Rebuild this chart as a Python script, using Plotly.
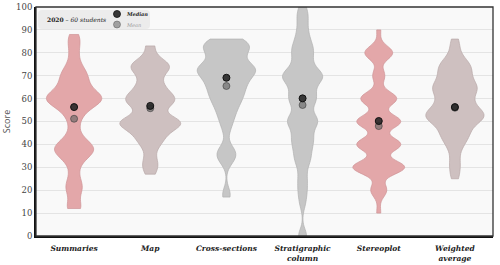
import plotly.graph_objects as go

categories = ["Summaries", "Map", "Cross-sections", "Stratigraphic<br>column", "Stereoplot", "Weighted<br>average"]

summaries = [12, 12, 13, 17, 20, 21, 22, 24, 27, 30,
             33, 34, 35, 36, 37, 37, 38, 38, 39, 39, 40, 41, 42, 44,
             47, 50, 52, 54, 55,
             56, 57, 58, 58, 59, 59, 60, 60, 60, 60, 61, 61, 62, 62, 63, 64, 65,
             66, 67, 68, 69, 70, 71, 72, 73, 75, 78, 81, 84, 86, 88]
map_scores = [27, 29, 31, 32, 34,
              38, 40, 41, 42, 43, 44, 44,
              46, 47, 48, 48, 49, 49, 49, 49, 50, 50, 50, 50, 50, 51, 51, 51,
              56, 57, 57, 58, 58, 59, 59, 60, 60, 60, 61, 61, 62, 63, 64, 65,
              66, 67, 68, 70, 72, 73, 73, 74, 74, 74, 75, 75, 76, 77,
              83, 83]
cross_sections = [17, 19,
                  32, 34, 35, 36, 37, 39,
                  46, 49, 51, 53, 54,
                  56, 57, 58, 59, 60, 61, 62, 62, 63, 64, 65,
                  66, 66, 67, 68, 68, 69, 69,
                  71, 71, 72, 72, 72, 73, 73, 73, 73, 74, 74, 75, 75,
                  77, 78, 79, 80, 80,
                  81, 82, 82, 83, 83, 84, 84, 85, 85, 86, 86]
stratigraphic = [0, 0,
                 14, 18, 21, 24,
                 27, 31, 33, 34, 36, 38, 39,
                 41, 42, 43, 44, 46,
                 48, 49, 50, 50, 51, 51, 52, 54,
                 57, 58, 59, 60, 60, 61,
                 63, 64, 65, 66,
                 68, 69, 69, 70, 70, 70, 70, 71, 72, 74,
                 75, 77, 78, 80, 81, 82, 83, 85,
                 87, 89, 92, 95, 97, 100]
stereoplot = ([10] + [20] * 4 + [30] * 13 + [40] * 11 + [50] * 11 +
              [60] * 9 + [70] * 3 + [80] * 7 + [90])
weighted = [25, 28, 31, 33,
            37, 39,
            41, 42, 43, 44, 45, 46, 46,
            48, 49, 50, 50, 51, 51, 52, 52, 52, 53, 53, 53, 54, 54, 55, 55,
            56, 57, 58, 59, 59, 60, 61, 62,
            63, 64, 64, 65, 65, 65, 66, 66, 67,
            69, 70, 70, 71, 72,
            73, 74, 75, 75, 76, 77,
            80, 83, 86]

scores = [summaries, map_scores, cross_sections, stratigraphic, stereoplot, weighted]
medians = [56.3, 56.8, 69.1, 60.1, 50.2, 56.3]
means = [51.2, 55.8, 65.5, 57.2, 48.0, 56.0]

fills = ["#e3a7a9", "#cec0c0", "#c6c6c6", "#c6c6c6", "#e3a7a9", "#cec0c0"]
lines = ["#cf9396", "#b8a8a8", "#b0b0b0", "#b0b0b0", "#cf9396", "#b8a8a8"]

fig = go.Figure()
for i, s in enumerate(scores):
    fig.add_trace(go.Violin(
        x=[i] * len(s), y=s, name=categories[i],
        spanmode="hard", bandwidth=3,
        scalegroup="all", scalemode="width",
        points=False, box_visible=False, meanline_visible=False,
        fillcolor=fills[i], line=dict(color=lines[i], width=0.7),
        opacity=1, showlegend=False, hoverinfo="skip",
    ))

fig.add_trace(go.Scatter(
    x=list(range(len(categories))), y=means, mode="markers", showlegend=False,
    marker=dict(size=7, color="rgba(95,95,95,0.6)", line=dict(color="rgba(60,60,60,0.6)", width=1)),
))
fig.add_trace(go.Scatter(
    x=list(range(len(categories))), y=medians, mode="markers", showlegend=False,
    marker=dict(size=7, color="rgba(35,35,35,0.88)", line=dict(color="#111", width=1)),
))

# plot-area border (top/right)
fig.add_shape(type="rect", xref="paper", yref="paper", x0=0, x1=1, y0=0, y1=1,
              line=dict(color="#333", width=1.3), layer="above")

# legend box
fig.add_shape(type="path", xref="paper", yref="paper", xsizemode="pixel", ysizemode="pixel",
              xanchor=0, yanchor=1,
              path="M 6,-3 L 110,-3 Q 114,-3 114,-7 L 114,-18 Q 114,-22 110,-22 L 6,-22 Q 2,-22 2,-18 L 2,-7 Q 2,-3 6,-3 Z",
              fillcolor="#ececec", line=dict(width=0), layer="above")
fig.add_shape(type="circle", xref="paper", yref="paper", xsizemode="pixel", ysizemode="pixel",
              xanchor=0, yanchor=1, x0=77.5, x1=84.5, y0=-10.5, y1=-3.5,
              fillcolor="rgba(35,35,35,0.9)", line=dict(color="#111", width=0.8), layer="above")
fig.add_shape(type="circle", xref="paper", yref="paper", xsizemode="pixel", ysizemode="pixel",
              xanchor=0, yanchor=1, x0=77.5, x1=84.5, y0=-21, y1=-14,
              fillcolor="rgba(110,110,110,0.6)", line=dict(color="rgba(80,80,80,0.6)", width=0.8), layer="above")

fig.add_annotation(xref="paper", yref="paper", x=(45 - 36) / 457, y=(236 - 19.5) / 229,
                   xanchor="left", yanchor="middle", showarrow=False,
                   text="<b>2020</b> – <i>60 students</i>",
                   font=dict(family="DejaVu Serif", size=6, color="#222"))
fig.add_annotation(xref="paper", yref="paper", x=(124 - 36) / 457, y=(236 - 14) / 229,
                   xanchor="left", yanchor="middle", showarrow=False,
                   text="<b><i>Median</i></b>",
                   font=dict(family="DejaVu Serif", size=5, color="#222"))
fig.add_annotation(xref="paper", yref="paper", x=(124 - 36) / 457, y=(236 - 24.5) / 229,
                   xanchor="left", yanchor="middle", showarrow=False,
                   text="<i>Mean</i>",
                   font=dict(family="DejaVu Serif", size=5, color="#999"))

fig.update_layout(
    width=500, height=265,
    margin=dict(l=36, r=7, t=7, b=29, autoexpand=False),
    paper_bgcolor="white", plot_bgcolor="#f9f9f9",
    violinmode="overlay", violingap=0.2, violingroupgap=0, showlegend=False,
)
fig.update_xaxes(
    range=[-0.5, 5.5], tickvals=list(range(len(categories))), ticktext=categories,
    showgrid=False, zeroline=False, showline=True, linecolor="#111", linewidth=2,
    ticks="", ticklabelstandoff=4, automargin=False,
    tickfont=dict(family="DejaVu Serif", size=7.5, color="#222", weight="bold", style="italic"),
)
fig.update_yaxes(
    range=[0, 100], dtick=10, showgrid=True, gridcolor="#e4e4e4", gridwidth=1,
    zeroline=False, showline=True, linecolor="#111", linewidth=2, ticks="", automargin=False,
    tickfont=dict(family="DejaVu Serif", size=8.5, color="#444"),
    title=dict(text="Score", standoff=6, font=dict(family="Open Sans", size=9, color="#555")),
)

fig.write_html("out.html", config={"displayModeBar": False},
               post_script="document.body.style.margin='0';")
